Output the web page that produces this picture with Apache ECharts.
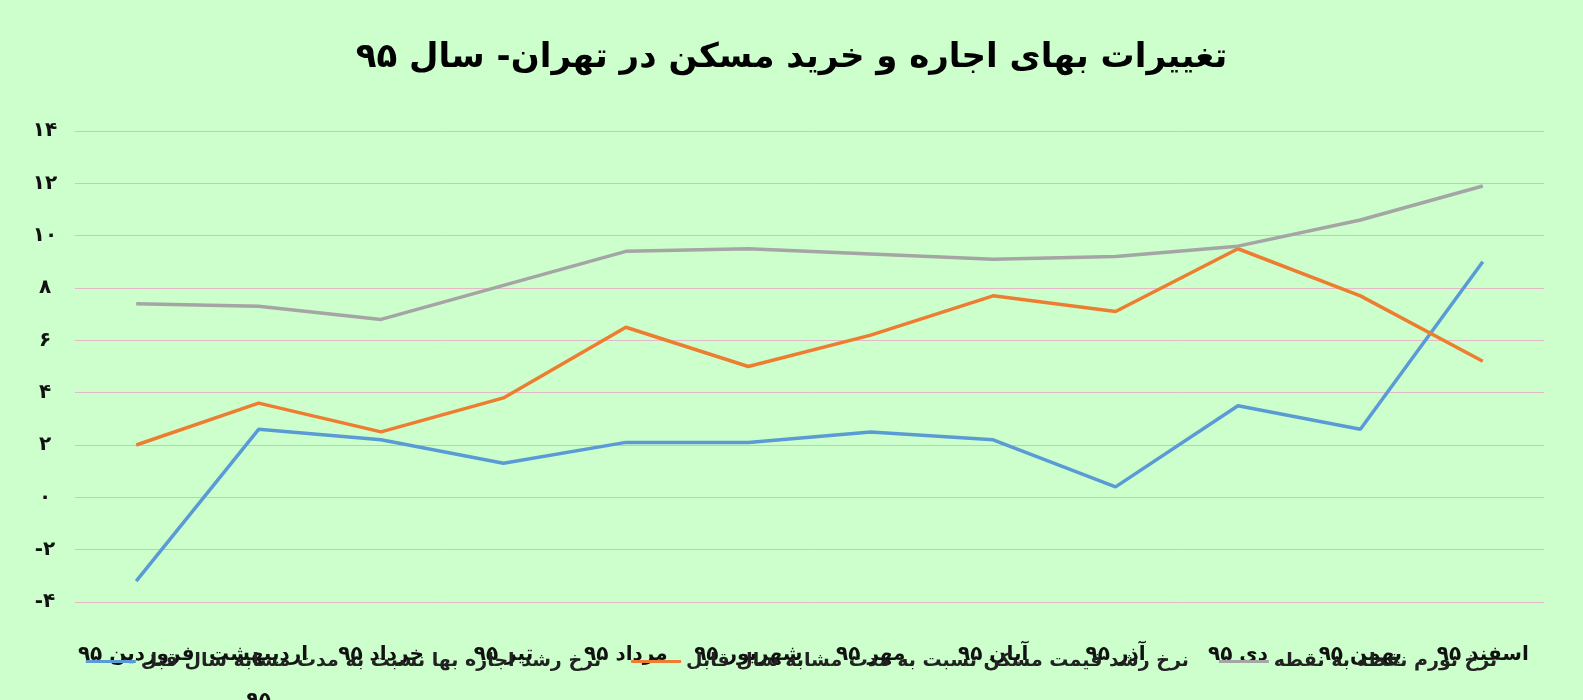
<!DOCTYPE html>
<html><head><meta charset="utf-8">
<script src="https://cdn.jsdelivr.net/npm/echarts@6/dist/echarts.min.js"></script>
<style>html,body{margin:0;padding:0;background:#ccffcc}#c{width:1583px;height:700px}</style>
</head><body><div id="c"></div>
<script>
const categories = ['فروردین ۹۵','اردیبهشت\n۹۵','خرداد ۹۵','تیر ۹۵','مرداد ۹۵','شهریور ۹۵','مهر ۹۵','آبان ۹۵','آذر ۹۵','دی ۹۵','بهمن ۹۵','اسفند ۹۵'];
const rentGrowth = [-3.2,2.6,2.2,1.3,2.1,2.1,2.5,2.2,0.4,3.5,2.6,9.0];
const housePriceGrowth = [2.0,3.6,2.5,3.8,6.5,5.0,6.2,7.7,7.1,9.5,7.7,5.2];
const inflation = [7.4,7.3,6.8,8.1,9.4,9.5,9.3,9.1,9.2,9.6,10.6,11.9];
const seriesNames = ['نرخ رشد اجاره بها نسبت به مدت مشابه سال قبل','نرخ رشد قیمت مسکن نسبت به مدت مشابه سال قابل','نرخ تورم نقطه به نقطه'];
const fa = n => String(n).replace(/\d/g, d => '۰۱۲۳۴۵۶۷۸۹'[d]);
const font = 'DejaVu Sans';
const chart = echarts.init(document.getElementById('c'));
const mk = (name, data, color) => ({name, type:'line', data, symbol:'none', lineStyle:{width:3.5,color}, itemStyle:{color}});
chart.setOption({
  backgroundColor:'#ccffcc',
  textStyle:{fontFamily:font},
  title:{text:'تغییرات بهای اجاره و خرید مسکن در تهران- سال ۹۵',left:'center',top:36,textStyle:{fontSize:34,fontWeight:'bold',color:'#000',fontFamily:font}},
  legend:{bottom:24,left:'center',itemWidth:50,itemHeight:3,itemGap:30,icon:'rect',textStyle:{fontSize:19,fontWeight:'bold',color:'#222',fontFamily:font},data:seriesNames},
  grid:{left:75,right:39,top:131,bottom:98,containLabel:false,outerBoundsMode:'none'},
  xAxis:{type:'category',data:categories,boundaryGap:true,
    axisLine:{show:true,onZero:true,lineStyle:{opacity:0}},axisTick:{show:false},
    axisLabel:{margin:30,fontSize:20,fontWeight:'bold',color:'#111',interval:0,lineHeight:46,verticalAlign:'top'}},
  yAxis:{type:'value',min:-4,max:14,interval:2,axisLine:{show:false},axisTick:{show:false},
    splitLine:{lineStyle:{color:'#e3b8c8',width:1}},
    axisLabel:{margin:30,align:'center',fontSize:20,fontWeight:'bold',color:'#111',formatter:v=>v<0?'-'+fa(-v):fa(v)}},
  series:[mk(seriesNames[0],rentGrowth,'#5b9bd5'),mk(seriesNames[1],housePriceGrowth,'#ed7d31'),mk(seriesNames[2],inflation,'#a5a5a5')]
});
</script></body></html>
